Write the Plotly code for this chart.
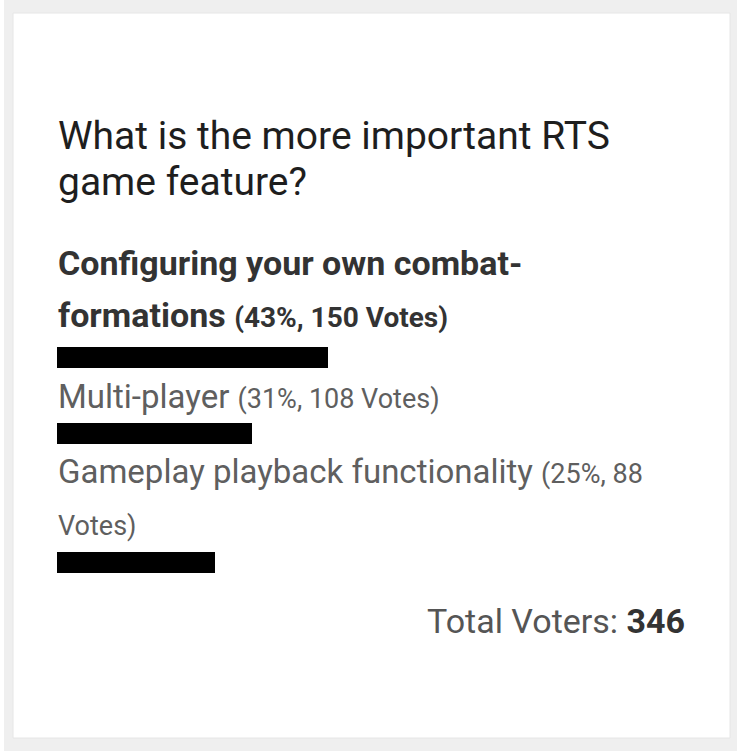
import plotly.graph_objects as go

# ---------------- data ----------------
QUESTION = "What is the more important RTS game feature?"
OPTIONS = ["Configuring your own combat-formations", "Multi-player", "Gameplay playback functionality"]
PERCENTS = [43, 31, 25]
VOTES = [150, 108, 88]
TOTAL_VOTERS = 346

# ---------------- layout constants (pixels) ----------------
W, H = 737, 751
LEFT = 57
BAR_FULL = 630          # width of a 100% bar
BAR_TOPS = [347, 423, 552]
BAR_H = 21
TITLE_SIZE = 39
LABEL_SIZE = 33
PAREN_SIZE = 27
BOLD_SIZE = 34
BOLD_PAREN_SIZE = 28
TOTAL_SIZE = 34
FONT = "Roboto, 'Noto Sans', sans-serif"


def py(p):
    return 1 - p / H


def px(p):
    return p / W


fig = go.Figure()

# bars: one y axis per option so rows can sit at their own heights
for i, (name, pct) in enumerate(zip(OPTIONS, PERCENTS)):
    ax = "" if i == 0 else str(i + 1)
    fig.add_trace(go.Bar(
        x=[pct], y=[name], orientation="h",
        marker=dict(color="#000000", line=dict(width=0)),
        width=1, xaxis="x", yaxis="y" + ax,
        hoverinfo="skip", showlegend=False,
    ))
    top = BAR_TOPS[i]
    fig.layout["yaxis" + ax] = dict(
        domain=[py(top + BAR_H), py(top)], anchor="x",
        range=[-0.5, 0.5], visible=False, fixedrange=True,
    )

fig.update_layout(
    xaxis=dict(domain=[px(LEFT), px(LEFT + BAR_FULL)], range=[0, 100],
               visible=False, fixedrange=True),
    width=W, height=H, margin=dict(l=0, r=0, t=0, b=0),
    paper_bgcolor="#ffffff", plot_bgcolor="rgba(0,0,0,0)",
    bargap=0, font=dict(family=FONT),
)

# card frame
fig.add_shape(type="rect", xref="paper", yref="paper", x0=px(4), x1=1, y0=0, y1=1,
              fillcolor="#efefef", line=dict(width=0), layer="below")
fig.add_shape(type="rect", xref="paper", yref="paper", x0=px(13), x1=px(730),
              y0=py(738), y1=py(13), fillcolor="#ffffff",
              line=dict(color="#e6e6e6", width=1), layer="below")


def add_line(text, baseline, size, x=LEFT, anchor="left"):
    fig.add_annotation(
        text=text, xref="paper", yref="paper", x=px(x), y=py(baseline - 0.34 * size),
        xanchor=anchor, yanchor="middle", showarrow=False, align=anchor, borderpad=0,
        font=dict(family=FONT, size=size, color="#1e1e1e"),
    )


def paren(i):
    return f"({PERCENTS[i]}%, {VOTES[i]} Votes)"


# title (wrapped onto two lines)
q_words = QUESTION.split(" ")
add_line(" ".join(q_words[:6]), 149, TITLE_SIZE)
add_line(" ".join(q_words[6:]), 195, TITLE_SIZE)

BOLD_C = "#333333"
REG_C = "#5f5f5f"

# option 1 (bold, wrapped after the hyphen)
n0a, n0b = OPTIONS[0].split("-", 1)
add_line(f"<span style='color:{BOLD_C}'><b>{n0a}-</b></span>", 275, BOLD_SIZE)
add_line(f"<span style='color:{BOLD_C}'><b>{n0b} <span style='font-size:{BOLD_PAREN_SIZE}px'>{paren(0)}</span></b></span>",
         327, BOLD_SIZE)

# option 2
add_line(f"<span style='color:{REG_C}'>{OPTIONS[1]} <span style='font-size:{PAREN_SIZE}px'>{paren(1)}</span></span>",
         408, LABEL_SIZE)

# option 3 (parenthetical wraps)
p2 = paren(2)
p2a, p2b = p2.rsplit(" ", 1)
add_line(f"<span style='color:{REG_C}'>{OPTIONS[2]} <span style='font-size:{PAREN_SIZE}px'>{p2a}</span></span>",
         483, LABEL_SIZE)
add_line(f"<span style='color:{REG_C}'>{p2b}</span>", 535, PAREN_SIZE)

# total voters
add_line(f"<span style='color:#555555'>Total Voters: </span><span style='color:{BOLD_C}'><b>{TOTAL_VOTERS}</b></span>",
         633, TOTAL_SIZE, x=686, anchor="right")

fig.write_html("out.html", config={"displayModeBar": False},
               post_script="document.body.style.margin='0';document.body.style.overflow='hidden';")
